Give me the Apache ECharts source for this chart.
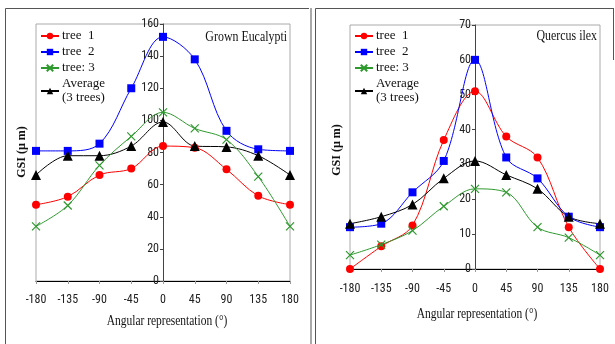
<!DOCTYPE html>
<html><head><meta charset="utf-8">
<script src="https://cdn.jsdelivr.net/npm/echarts@6/dist/echarts.min.js"></script>
<style>html,body{margin:0;padding:0;background:#fff}#c{width:615px;height:344px}</style>
</head><body><div id="c"></div>
<script>
const angles = [-180, -135, -90, -45, 0, 45, 90, 135, 180];
const seriesNames = ['tree  1', 'tree  2', 'tree: 3', 'Average\n(3 trees)'];
// Grown Eucalypti
const euc_tree1 = [47.5, 52.5, 66, 70, 84, 83, 69.5, 53, 47.5];
const euc_tree2 = [81, 81, 85.5, 120, 152, 138, 93.5, 82, 81];
const euc_tree3 = [34, 47, 72, 90, 105, 95, 88, 65, 34];
const euc_avg   = [66, 78, 78, 84, 99, 84, 83.5, 78, 66];
// Quercus ilex
const que_tree1 = [0, 6.5, 12.5, 37, 51, 38, 32, 12, 0];
const que_tree2 = [12, 13, 22, 31, 60, 32, 26, 15, 12];
const que_tree3 = [4, 7, 11, 18, 23, 22, 12, 9, 4];
const que_avg   = [13, 15, 18.5, 26, 31, 27, 23, 15, 13];
const titles = ['Grown Eucalypti', 'Quercus ilex'];
const xTitle = 'Angular representation (°)';
const yTitle = 'GSI (µ m)';

const colors = ['#ff0000', '#0000ff', '#2e9a2e', '#000000'];
const symbols = ['circle', 'rect', 'path://M0,0L10,10M10,0L0,10', 'triangle'];
const sizes = [8, 8, 8, 10];
const serif = '"Liberation Serif", "Times New Roman", serif';
const narrow = '"Roboto Condensed", "Liberation Sans", sans-serif';

function mk(data, i, gi) {
  return {
    type: 'line', name: seriesNames[i], xAxisIndex: gi, yAxisIndex: gi,
    data: angles.map((a, k) => [a, data[k]]),
    smooth: 0.35, symbol: symbols[i], symbolSize: sizes[i],
    lineStyle: { color: colors[i], width: 1 },
    itemStyle: { color: i === 2 ? 'rgba(0,0,0,0)' : colors[i], borderColor: colors[i], borderWidth: i === 2 ? 1.2 : 0 },
    z: i === 2 ? 3 : 2
  };
}

function xAx(gi, margin) {
  return {
    type: 'value', gridIndex: gi, min: -180, max: 180, interval: 45,
    axisLine: { onZero: false, lineStyle: { color: '#000', width: 1 } },
    axisTick: { show: true, length: 3, lineStyle: { color: '#999' } },
    axisLabel: { margin: margin, color: '#222', fontFamily: narrow, fontSize: 12 },
    splitLine: { show: false }
  };
}
function yAx(gi, max, interval, off) {
  return {
    type: 'value', gridIndex: gi, min: 0, max: max, interval: interval, offset: off,
    axisLine: { show: true, onZero: false, lineStyle: { color: '#444', width: 1 } },
    axisTick: { show: true, length: 3, lineStyle: { color: '#444' } },
    axisLabel: { margin: 4, color: '#222', fontFamily: narrow, fontSize: 12 },
    splitLine: { show: false }
  };
}
function legend(left, top) {
  return {
    left: left, top: top, orient: 'vertical', itemWidth: 18, itemHeight: 8, itemGap: 2,
    padding: 0,
    textStyle: { fontFamily: serif, fontSize: 13, color: '#111', lineHeight: 14, padding: [0,0,0,-2] },
    data: seriesNames
  };
}

const chart = echarts.init(document.getElementById('c'), null, { renderer: 'canvas' });
chart.setOption({
  animation: false,
  grid: [
    { left: 36, right: 325, top: 24, bottom: 63, show: true, borderColor: '#aaa', borderWidth: 1, backgroundColor: 'transparent' },
    { left: 350, right: 15, top: 25, bottom: 75, show: true, borderColor: '#aaa', borderWidth: 1, backgroundColor: 'transparent' }
  ],
  xAxis: [xAx(0, 13), xAx(1, 14)],
  yAxis: [yAx(0, 160, 20, -127), yAx(1, 70, 10, -125)],
  legend: [legend(40, 29), legend(354, 29)],
  series: [
    mk(euc_tree1, 0, 0), mk(euc_tree2, 1, 0), mk(euc_tree3, 2, 0), mk(euc_avg, 3, 0),
    mk(que_tree1, 0, 1), mk(que_tree2, 1, 1), mk(que_tree3, 2, 1), mk(que_avg, 3, 1)
  ],
  graphic: [
    { type: 'line', shape: { x1: 5.5, y1: 8.5, x2: 309, y2: 8.5 }, style: { stroke: '#555', lineWidth: 1 } },
    { type: 'line', shape: { x1: 5.5, y1: 8.5, x2: 5.5, y2: 344 }, style: { stroke: '#555', lineWidth: 1 } },
    { type: 'line', shape: { x1: 311, y1: 8, x2: 311, y2: 344 }, style: { stroke: '#aaa', lineWidth: 2 } },
    { type: 'line', shape: { x1: 315.5, y1: 8.5, x2: 614, y2: 8.5 }, style: { stroke: '#555', lineWidth: 1 } },
    { type: 'line', shape: { x1: 315.5, y1: 8.5, x2: 315.5, y2: 344 }, style: { stroke: '#555', lineWidth: 1 } },
    { type: 'line', shape: { x1: 613.5, y1: 8.5, x2: 613.5, y2: 60 }, style: { stroke: '#555', lineWidth: 1 } },
    { type: 'text', x: 287, y: 37, scaleX: 0.85, style: { text: titles[0], font: '14px ' + serif, fill: '#111', align: 'right', verticalAlign: 'middle' } },
    { type: 'text', x: 597, y: 36, scaleX: 0.85, style: { text: titles[1], font: '14px ' + serif, fill: '#111', align: 'right', verticalAlign: 'middle' } },
    { type: 'text', x: 167, y: 321, scaleX: 0.82, style: { text: xTitle, font: '14px ' + serif, fill: '#111', align: 'center', verticalAlign: 'middle' } },
    { type: 'text', x: 477, y: 314, scaleX: 0.82, style: { text: xTitle, font: '14px ' + serif, fill: '#111', align: 'center', verticalAlign: 'middle' } },
    { type: 'text', x: 22, y: 152, rotation: Math.PI / 2, style: { text: yTitle, font: 'bold 12px ' + serif, fill: '#111', align: 'center', verticalAlign: 'middle' } },
    { type: 'text', x: 337, y: 150, rotation: Math.PI / 2, style: { text: yTitle, font: 'bold 12px ' + serif, fill: '#111', align: 'center', verticalAlign: 'middle' } }
  ]
});
</script></body></html>
